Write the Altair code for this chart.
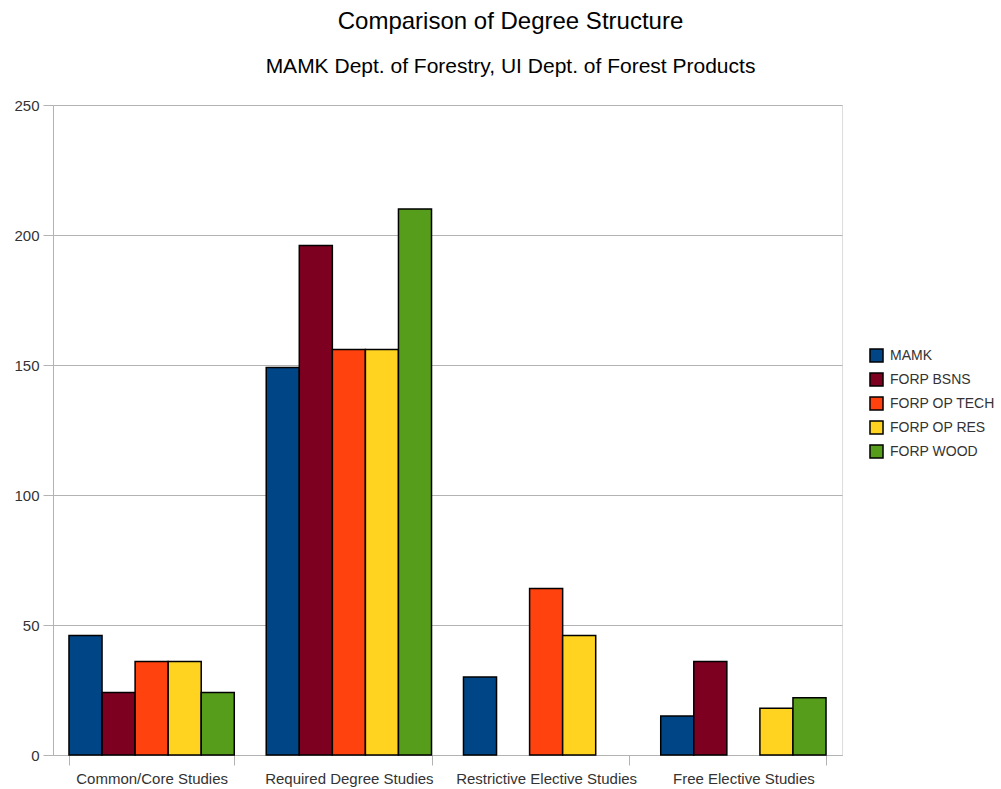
import altair as alt
import pandas as pd

categories = ["Common/Core Studies", "Required Degree Studies",
              "Restrictive Elective Studies", "Free Elective Studies"]
series = ["MAMK", "FORP BSNS", "FORP OP TECH", "FORP OP RES", "FORP WOOD"]
values = {
    "MAMK":         [46, 149, 30, 15],
    "FORP BSNS":    [24, 196, 0, 36],
    "FORP OP TECH": [36, 156, 64, 0],
    "FORP OP RES":  [36, 156, 46, 18],
    "FORP WOOD":    [24, 210, 0, 22],
}
colors = ["#004586", "#7e0021", "#ff420e", "#ffd320", "#579d1c"]
y_ticks = [0, 50, 100, 150, 200, 250]

rows = []
for s in series:
    for c, v in zip(categories, values[s]):
        rows.append({"category": c, "series": s, "value": v})
df = pd.DataFrame(rows)

FONT = "Liberation Sans"

chart = alt.Chart(df).transform_filter(
    alt.datum.value > 0
).mark_bar(stroke="black", strokeWidth=1.5).encode(
    x=alt.X("category:N", sort=categories, title=None,
            scale=alt.Scale(paddingInner=0.162, paddingOuter=0.081),
            axis=alt.Axis(labelAngle=0, tickBand="extent", tickSize=10,
                          labelPadding=6, labelFontSize=15, labelColor="#333333",
                          labelLimit=400,
                          domainColor="#b3b3b3", tickColor="#b3b3b3",
                          labelFont=FONT, grid=False)),
    xOffset=alt.XOffset("series:N", sort=series,
                        scale=alt.Scale(paddingInner=0, paddingOuter=0)),
    y=alt.Y("value:Q", title=None,
            scale=alt.Scale(domain=[0, 250], nice=False),
            axis=alt.Axis(values=y_ticks, tickSize=10, labelPadding=4,
                          labelFontSize=15, labelColor="#333333", labelFont=FONT,
                          domainColor="#b3b3b3", tickColor="#b3b3b3",
                          gridColor="#b3b3b3", grid=True)),
    color=alt.Color("series:N", sort=series,
                    scale=alt.Scale(domain=series, range=colors),
                    legend=alt.Legend(title=None, orient="none", legendX=816, legendY=243,
                                      symbolType="square", symbolSize=170,
                                      symbolStrokeColor="black", symbolStrokeWidth=1.5,
                                      labelFontSize=14, labelColor="#333333",
                                      labelFont=FONT, rowPadding=3, labelOffset=6)),
).properties(
    width=789, height=650,
    autosize="none",
    padding={"left": 53, "top": 105, "right": 159, "bottom": 34},
    title=alt.TitleParams(
        text="Comparison of Degree Structure",
        subtitle="MAMK Dept. of Forestry, UI Dept. of Forest Products",
        anchor="middle", frame="group", dx=63,
        font=FONT, fontSize=24, fontWeight="normal", color="black",
        subtitleFont=FONT, subtitleFontSize=21, subtitleColor="black",
        subtitlePadding=22, offset=21,
    ),
).configure_view(stroke="#b3b3b3").configure(background="white")

chart.save("out.html", embed_options={"renderer": "svg", "actions": False})
